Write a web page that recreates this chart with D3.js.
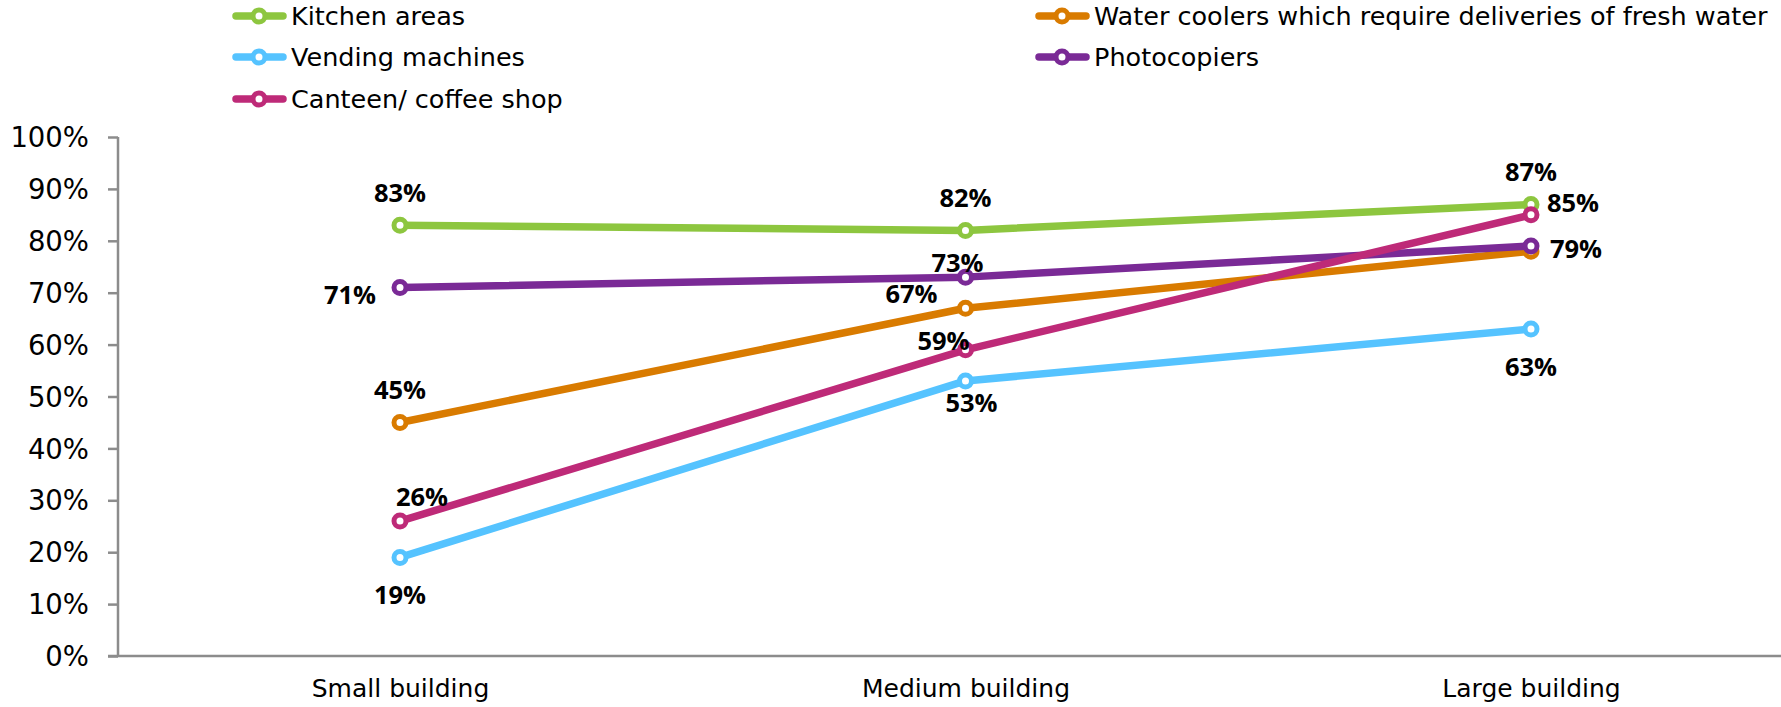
<!DOCTYPE html>
<html><head><meta charset="utf-8">
<script src="https://cdn.jsdelivr.net/npm/d3@7"></script>
<style>body{margin:0;background:#fff}svg{display:block}</style>
</head><body>
<svg id="chart" width="1781" height="707"></svg>
<script>
const categories = ["Small building", "Medium building", "Large building"];
const seriesNames = ["Kitchen areas", "Water coolers which require deliveries of fresh water", "Vending machines", "Photocopiers", "Canteen/ coffee shop"];
const kitchen = [83, 82, 87];
const water = [45, 67, 78];
const vending = [19, 53, 63];
const photocopiers = [71, 73, 79];
const canteen = [26, 59, 85];
const colors = ["#8DC63F", "#D97B00", "#55C3FF", "#7A2A96", "#BE2A78"];
const yTicks = [0, 10, 20, 30, 40, 50, 60, 70, 80, 90, 100];
// label offsets per series per point [dx, dy], null = hidden
const labelPos = [
  [[0, -32], [0, -32], [0, -32]],
  [[0, -32], [-54, -14], null],
  [[0, 38], [6, 22], [0, 38]],
  [[-50, 8], [-8, -14], [45, 3]],
  [[22, -24], [-22, -9], [42, -12]]
];
const values = [kitchen, water, vending, photocopiers, canteen];

const svg = d3.select("#chart");
const x = d3.scalePoint().domain(categories).range([400, 1531]);
const y = d3.scaleLinear().domain([0, 100]).range([656, 137]);
const axisLeft = 118, axisRight = 1781;

// axes
const yAxis = d3.axisLeft(y).tickValues(yTicks).tickSize(10).tickPadding(19).tickFormat(d => d + "%");
const gy = svg.append("g").attr("transform", `translate(${axisLeft},0)`).call(yAxis);
gy.select(".domain").remove();
gy.selectAll(".tick line").attr("stroke", "#8c8c8c").attr("stroke-width", 2.5);
gy.selectAll(".tick text").attr("fill", "#000").style("font-family", "DejaVu Sans").style("font-size", "27.5px").attr("dy", "0.35em");
svg.append("line").attr("x1", axisLeft).attr("x2", axisLeft).attr("y1", y(100)).attr("y2", y(0)).attr("stroke", "#8c8c8c").attr("stroke-width", 2.5);
svg.append("line").attr("x1", axisLeft - 10).attr("x2", axisRight).attr("y1", y(0)).attr("y2", y(0)).attr("stroke", "#8c8c8c").attr("stroke-width", 2.5);

const xAxis = d3.axisBottom(x).tickSize(0).tickPadding(23);
const gx = svg.append("g").attr("transform", `translate(0,${y(0)})`).call(xAxis);
gx.select(".domain").remove();
gx.selectAll(".tick text").attr("fill", "#000").style("font-family", "DejaVu Sans").style("font-size", "25px");

// lines
const line = d3.line().x((d, i) => x(categories[i])).y(d => y(d));
values.forEach((vals, s) => {
  const g = svg.append("g");
  g.append("path").datum(vals).attr("d", line).attr("fill", "none").attr("stroke", colors[s]).attr("stroke-width", 7.5).attr("stroke-linejoin", "round");
  g.selectAll("circle").data(vals).join("circle")
    .attr("cx", (d, i) => x(categories[i])).attr("cy", d => y(d)).attr("r", 6)
    .attr("fill", "#fff").attr("stroke", colors[s]).attr("stroke-width", 5);
});
// labels
values.forEach((vals, s) => {
  vals.forEach((v, i) => {
    const p = labelPos[s][i];
    if (!p) return;
    svg.append("text").attr("x", x(categories[i]) + p[0]).attr("y", y(v) + p[1])
      .attr("text-anchor", "middle").attr("dy", "0.35em")
      .style("font-family", "Open Sans").style("font-weight", "bold").style("font-size", "25.5px")
      .attr("fill", "#000").text(v + "%");
  });
});

// legend
const legendPos = [[233, 16], [1036, 16], [233, 57], [1036, 57], [233, 99]];
seriesNames.forEach((name, s) => {
  const [lx, ly] = legendPos[s];
  const g = svg.append("g").attr("transform", `translate(${lx},${ly})`);
  g.append("line").attr("x1", 3).attr("x2", 50).attr("y1", 0).attr("y2", 0).attr("stroke", colors[s]).attr("stroke-width", 7.5).attr("stroke-linecap", "round");
  g.append("circle").attr("cx", 26).attr("cy", 0).attr("r", 6).attr("fill", "#fff").attr("stroke", colors[s]).attr("stroke-width", 5);
  g.append("text").attr("x", 58).attr("y", 0).attr("dy", "0.35em")
    .style("font-family", "DejaVu Sans").style("font-size", "25.5px").attr("fill", "#000").text(name);
});
</script>
</body></html>
